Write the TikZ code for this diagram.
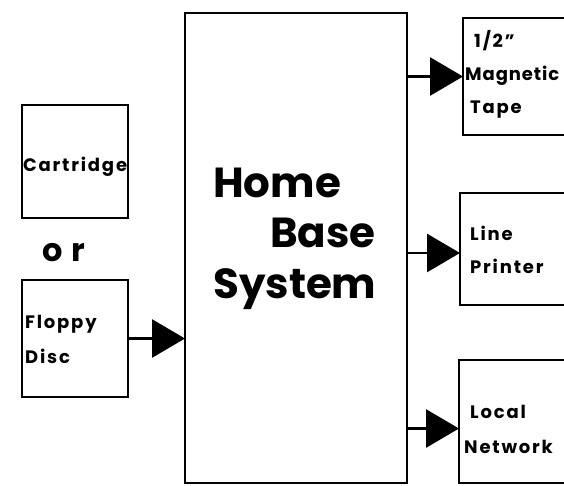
\documentclass[tikz,border=0pt]{standalone}
\usepackage{fontspec}
\setmainfont{Poppins}
\newfontfamily\spacedfont{Poppins}[LetterSpace=10]
\newfontfamily\tightfont{Poppins}[LetterSpace=5]
\usetikzlibrary{arrows.meta}
\tikzset{
  box/.style={draw, line width=2.8pt, rectangle, inner sep=0pt, outer sep=0pt},
  arr/.style={line width=2.8pt, -{Triangle[length=33pt,width=38pt]}},
  small/.style={anchor=base west, inner sep=0pt, font=\spacedfont\fontsize{18}{18}\selectfont\bfseries},
  big/.style={anchor=base west, inner sep=0pt, font=\fontsize{42}{42}\selectfont\bfseries},
}
\begin{document}
\begin{tikzpicture}[x=1pt,y=-1pt]
\useasboundingbox (0,0) rectangle (564,485);
\clip (0,0) rectangle (564,485);
\fill[white] (0,0) rectangle (564,485);
% boxes
\node[box, minimum width=222pt, minimum height=470pt] (main) at (296,248) {};
\node[box, minimum width=106pt, minimum height=113pt] (cart) at (75,161.5) {};
\node[box, minimum width=106pt, minimum height=117pt] (floppy) at (75,338.5) {};
\node[box, minimum width=130pt, minimum height=117pt] (tape) at (528,76.5) {};
\node[box, minimum width=130pt, minimum height=112pt] (printer) at (525,249) {};
\node[box, minimum width=130pt, minimum height=123pt] (network) at (524,421.5) {};
% connectors
\draw[arr] (floppy.east) -- (main.west |- floppy.east);
\draw[arr] (main.east |- tape.west) -- (tape.west);
\draw[arr] ([yshift=-4pt]main.east |- printer.west) -- ([yshift=-4pt]printer.west);
\draw[arr] ([yshift=-7pt]main.east |- network.west) -- ([yshift=-7pt]network.west);
% texts
\node[big] (t1) at (213,197) {Home};
\node[big] (t2) at (270,247) {Base};
\node[big] (t3) at (213,298) {System};
\node[small] (c1) at (23,171) {Cartridge};
\node[anchor=base west, inner sep=0pt, font=\fontsize{32}{32}\selectfont\bfseries] (or) at (42,261) {o\hspace{9pt}r};
\node[small] (f1) at (25,328) {Floppy};
\node[small] (f2) at (25,363) {Disc};
\node[small] (m1) at (474,47) {1/2”};
\node[small, font=\tightfont\fontsize{18}{18}\selectfont\bfseries] (m2) at (465,80) {Magnetic};
\node[small] (m3) at (470,113) {Tape};
\node[small] (p1) at (470,240) {Line};
\node[small] (p2) at (470,273) {Printer};
\node[small] (n1) at (470,418) {Local};
\node[small] (n2) at (464,453) {Network};
\end{tikzpicture}
\end{document}
